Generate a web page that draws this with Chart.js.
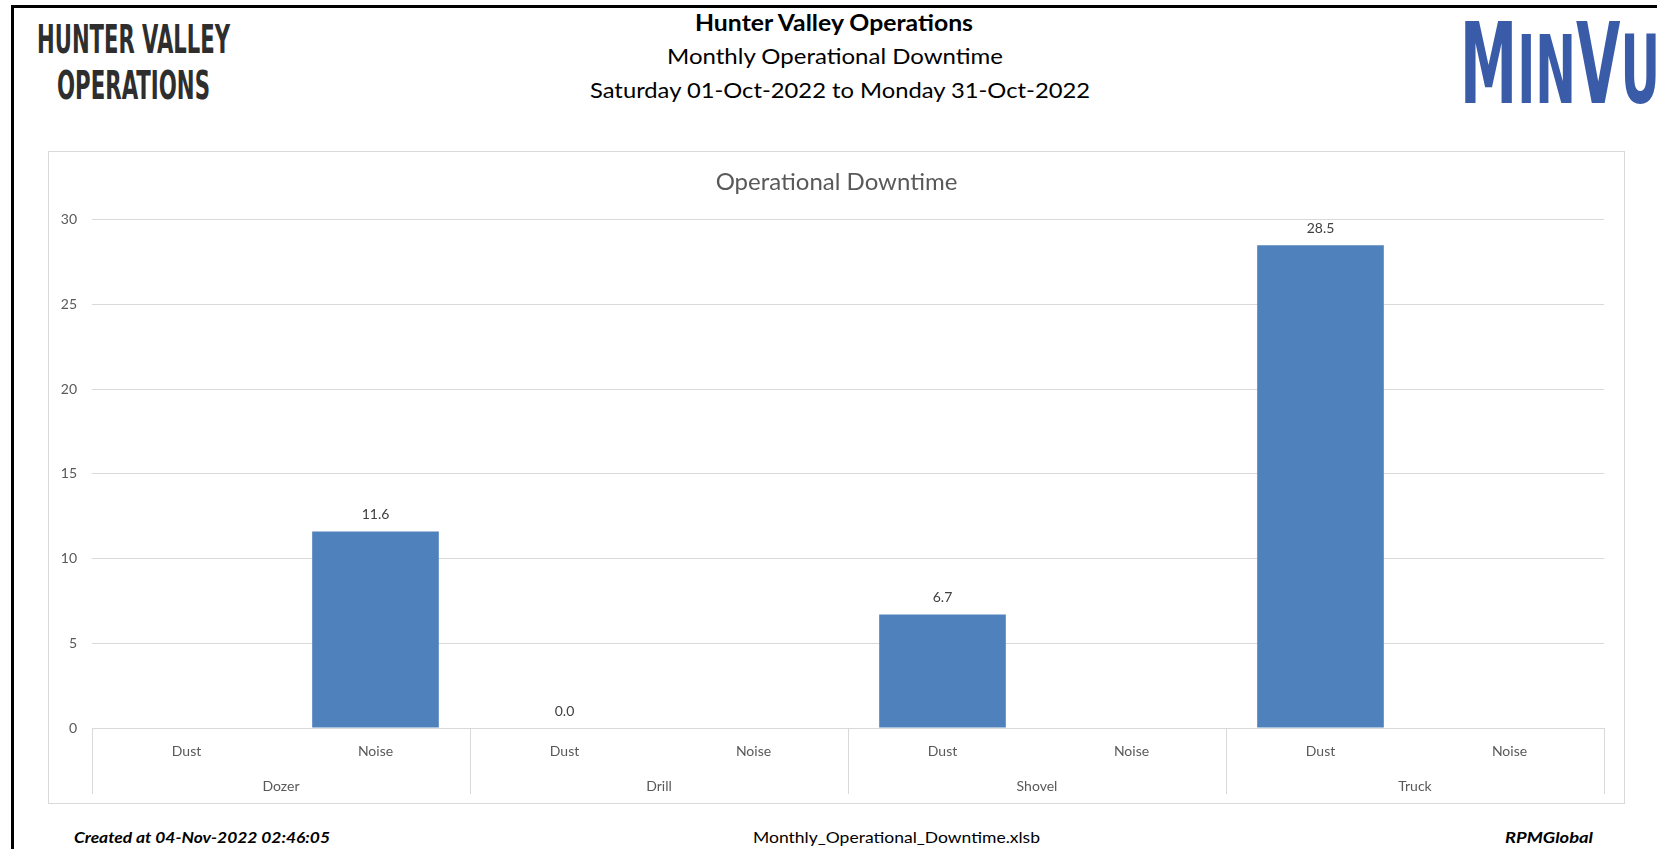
<!DOCTYPE html>
<html>
<head>
<meta charset="utf-8">
<script src="https://cdn.jsdelivr.net/npm/chart.js@4.4.0/dist/chart.umd.min.js"></script>
<style>
  html, body { margin: 0; padding: 0; background: #fff; }
  body { width: 1657px; height: 849px; position: relative; overflow: hidden; }
  .frame-top { position: absolute; left: 11px; top: 5px; width: 1700px; height: 3px; background: #000; }
  .frame-left { position: absolute; left: 11px; top: 5px; width: 3px; height: 900px; background: #000; }
  .txt { position: absolute; white-space: nowrap; transform-origin: 0 50%; }
  .hv { font-family: "Liberation Sans Narrow", "DejaVu Sans Condensed", sans-serif; font-weight: bold; color: #2e2e2e; font-size: 39px; line-height: 39px; }
  .hdr { font-family: Lato, "Open Sans", sans-serif; color: #000; font-size: 22px; line-height: 26px; }
  .foot { font-family: Lato, "Open Sans", sans-serif; color: #000; font-size: 15px; line-height: 18px; }
  .logo { font-family: "DejaVu Sans Condensed", "Liberation Sans Narrow", sans-serif; font-weight: bold; color: #3a5ca8; line-height: 100px; }
  #box { position: absolute; left: 48px; top: 151px; width: 1577px; height: 653px; border: 1px solid #d9d9d9; box-sizing: border-box; }
</style>
</head>
<body>
<div class="frame-top"></div>
<div class="frame-left"></div>

<div class="txt hv" data-w="193" style="left:37px; top:20px;">HUNTER VALLEY</div>
<div class="txt hv" data-w="153" style="left:57px; top:66px;">OPERATIONS</div>

<div class="txt hdr" data-w="278" style="left:695px; top:10px; font-weight:bold;">Hunter Valley Operations</div>
<div class="txt hdr" data-w="336" style="left:667px; top:43px;">Monthly Operational Downtime</div>
<div class="txt hdr" data-w="500" style="left:590px; top:77px;">Saturday 01-Oct-2022 to Monday 31-Oct-2022</div>

<div class="txt logo" data-w="200" style="left:1460px; top:14px;"><span style="font-size:112px;">M</span><span style="font-size:95px;">IN</span><span style="font-size:112px;">V</span><span style="font-size:95px;">U</span></div>

<div id="box"><canvas id="chart"></canvas></div>

<div class="txt foot" data-w="256" style="left:74px; top:828px; font-weight:bold; font-style:italic;">Created at 04-Nov-2022 02:46:05</div>
<div class="txt foot" data-w="287" style="left:753px; top:828px;">Monthly_Operational_Downtime.xlsb</div>
<div class="txt foot" data-w="88" style="left:1505px; top:828px; font-weight:bold; font-style:italic;">RPMGlobal</div>

<script>
// chart values
const subLabels = ['Dust', 'Noise', 'Dust', 'Noise', 'Dust', 'Noise', 'Dust', 'Noise'];
const groupLabels = ['Dozer', 'Drill', 'Shovel', 'Truck'];
const downtime = [null, 11.6, 0.0, null, 6.7, null, 28.5, null];
const yMax = 30;
const yStep = 5;

// squeeze header/footer text to the widths in the reference
document.querySelectorAll('[data-w]').forEach(el => {
  const w = el.getBoundingClientRect().width;
  el.style.transform = 'scaleX(' + (parseFloat(el.dataset.w) / w) + ')';
});

const FONT = 'Lato, "Open Sans", sans-serif';
Chart.defaults.font.family = FONT;
Chart.defaults.color = '#595959';

// value labels above the bars
const barLabels = {
  id: 'barLabels',
  afterDatasetsDraw(chart) {
    const ctx = chart.ctx;
    const meta = chart.getDatasetMeta(0);
    ctx.save();
    ctx.font = '14px ' + FONT;
    ctx.fillStyle = '#404040';
    ctx.textAlign = 'center';
    ctx.textBaseline = 'middle';
    meta.data.forEach((bar, i) => {
      const v = downtime[i];
      if (v === null) return;
      ctx.fillText(v.toFixed(1), bar.x, bar.y - 17);
    });
    ctx.restore();
  }
};

// vertical separators between the category groups
const groupLines = {
  id: 'groupLines',
  afterDraw(chart) {
    const x = chart.scales.x;
    const x2 = chart.scales.x2;
    const ctx = chart.ctx;
    const half = (x.getPixelForValue(1) - x.getPixelForValue(0)) / 2;
    ctx.save();
    ctx.strokeStyle = '#d9d9d9';
    ctx.lineWidth = 1;
    for (let k = 0; k <= subLabels.length; k += 2) {
      let px = k < subLabels.length ? x.getPixelForValue(k) - half : x.getPixelForValue(k - 1) + half;
      px = Math.round(px) + 0.5;
      ctx.beginPath();
      ctx.moveTo(px, chart.chartArea.bottom);
      ctx.lineTo(px, x2.bottom - 9);
      ctx.stroke();
    }
    ctx.restore();
  }
};

new Chart(document.getElementById('chart'), {
  type: 'bar',
  data: {
    labels: subLabels,
    datasets: [{
      label: 'Operational Downtime',
      data: downtime,
      backgroundColor: '#4f81bd',
      categoryPercentage: 1,
      barPercentage: 0.67
    }]
  },
  options: {
    responsive: true,
    maintainAspectRatio: false,
    animation: false,
    layout: { padding: 0 },
    plugins: {
      legend: { display: false },
      tooltip: { enabled: false },
      title: {
        display: true,
        text: 'Operational Downtime',
        color: '#595959',
        font: { size: 24, weight: 'normal' },
        padding: { top: 16, bottom: 23 }
      }
    },
    scales: {
      y: {
        min: 0,
        max: yMax,
        ticks: { stepSize: yStep, padding: 15, font: { size: 14 } },
        grid: { color: '#d9d9d9', drawTicks: false },
        border: { display: false },
        afterFit(scale) { scale.width = 43; }
      },
      // empty right-hand axis, only keeps the plot off the right border
      yRight: {
        position: 'right',
        min: 0,
        max: yMax,
        ticks: { display: false },
        grid: { display: false },
        border: { display: false },
        afterFit(scale) { scale.width = 20; }
      },
      x: {
        grid: { display: false },
        border: { display: false },
        ticks: { padding: 7, font: { size: 14 }, maxRotation: 0, autoSkip: false },
        afterFit(scale) { scale.height = 41; }
      },
      x2: {
        type: 'category',
        labels: groupLabels,
        position: 'bottom',
        offset: true,
        grid: { display: false },
        border: { display: false },
        ticks: { padding: 1, font: { size: 14 }, maxRotation: 0 },
        afterFit(scale) { scale.height = 34; }
      }
    }
  },
  plugins: [barLabels, groupLines]
});
</script>
</body>
</html>
